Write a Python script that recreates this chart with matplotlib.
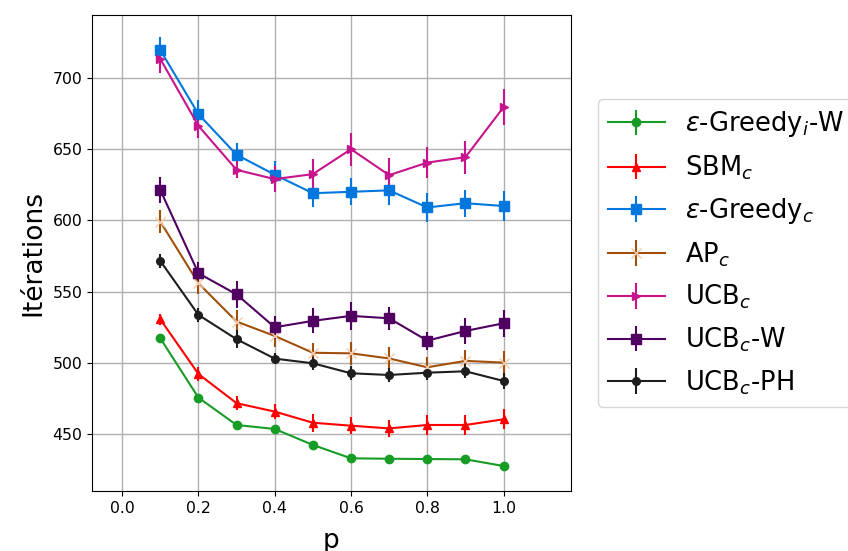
import matplotlib
matplotlib.use("Agg")
import matplotlib.pyplot as plt
import numpy as np

p = [0.1, 0.2, 0.3, 0.4, 0.5, 0.6, 0.7, 0.8, 0.9, 1.0]

# mean iterations and error bars per method
greedy_iw = [517.2, 475.5, 456.3, 453.5, 442.3, 432.9, 432.6, 432.4, 432.2, 427.5]
greedy_iw_err = [1.5, 1.5, 1.5, 1.5, 1.5, 1.5, 1.5, 1.5, 1.5, 1.5]

sbm_c = [530.5, 492.1, 471.6, 465.7, 457.9, 455.8, 453.9, 456.3, 456.3, 460.3]
sbm_c_err = [4.0, 4.7, 5.1, 5.3, 6.2, 6.0, 6.0, 6.7, 7.0, 6.9]

greedy_c = [719.5, 674.5, 646.0, 632.0, 619.0, 620.0, 621.0, 609.0, 612.0, 610.0]
greedy_c_err = [9.0, 10.0, 8.0, 9.6, 9.4, 9.4, 10.0, 10.5, 9.6, 10.8]

ap_c = [599.1, 555.8, 528.9, 518.8, 507.0, 506.6, 503.0, 496.8, 501.3, 500.1]
ap_c_err = [8.2, 7.6, 8.2, 7.8, 7.0, 8.2, 7.8, 7.4, 7.3, 8.4]

ucb_c = [713.3, 666.3, 635.4, 628.9, 632.4, 649.9, 631.7, 640.5, 644.3, 679.4]
ucb_c_err = [10.0, 8.8, 6.0, 9.0, 10.5, 11.7, 11.7, 11.0, 11.6, 12.5]

ucb_cw = [621.3, 562.8, 548.0, 524.9, 529.4, 532.9, 531.2, 515.5, 522.3, 527.7]
ucb_cw_err = [9.4, 8.2, 9.4, 8.2, 8.7, 9.8, 8.0, 6.4, 9.4, 9.6]

ucb_cph = [571.5, 533.6, 516.5, 502.9, 499.6, 492.6, 491.4, 493.0, 494.0, 487.2]
ucb_cph_err = [5.0, 5.0, 6.2, 4.0, 4.4, 4.9, 4.7, 5.0, 5.0, 5.3]

series = [
    (r"$\varepsilon$-Greedy$_i$-W", greedy_iw, greedy_iw_err, "#179c26", "o", 6.0, None),
    (r"SBM$_c$", sbm_c, sbm_c_err, "#ff0000", "^", 6.0, None),
    (r"$\varepsilon$-Greedy$_c$", greedy_c, greedy_c_err, "#0077dd", "s", 6.8, None),
    (r"AP$_c$", ap_c, ap_c_err, "#a0500a", "x", 7.0, "#f5c8a8"),
    (r"UCB$_c$", ucb_c, ucb_c_err, "#c8148c", ">", 6.0, None),
    (r"UCB$_c$-W", ucb_cw, ucb_cw_err, "#4f0061", "s", 6.8, None),
    (r"UCB$_c$-PH", ucb_cph, ucb_cph_err, "#1e1e1e", "o", 5.5, None),
]

fig = plt.figure(figsize=(8.48, 5.51), dpi=100)
ax = fig.add_axes([0.1085, 0.109, 0.5645, 0.8635])

for label, y, err, col, mk, ms, mcol in series:
    mc = mcol if mcol else col
    ax.errorbar(p, y, yerr=err, color=col, marker=mk, markersize=ms,
                markerfacecolor=mc, markeredgecolor=mc, linewidth=1.5,
                elinewidth=1.5, label=label)

ax.set_xlim(-0.079, 1.176)
ax.set_ylim(410, 744)
ax.set_xticks([0.0, 0.2, 0.4, 0.6, 0.8, 1.0])
ax.set_yticks([450, 500, 550, 600, 650, 700])
ax.tick_params(labelsize=11.3)
ax.grid(True, color="#b0b0b0", linewidth=1.0)
ax.set_axisbelow(True)
ax.set_xlabel("p", fontsize=19, labelpad=9)
ax.set_ylabel("Itérations", fontsize=19)

ax.legend(loc="center left", bbox_to_anchor=(1.03, 0.5), fontsize=18.5,
          handlelength=2.2, labelspacing=0.55)

fig.savefig("out.png", dpi=100)
